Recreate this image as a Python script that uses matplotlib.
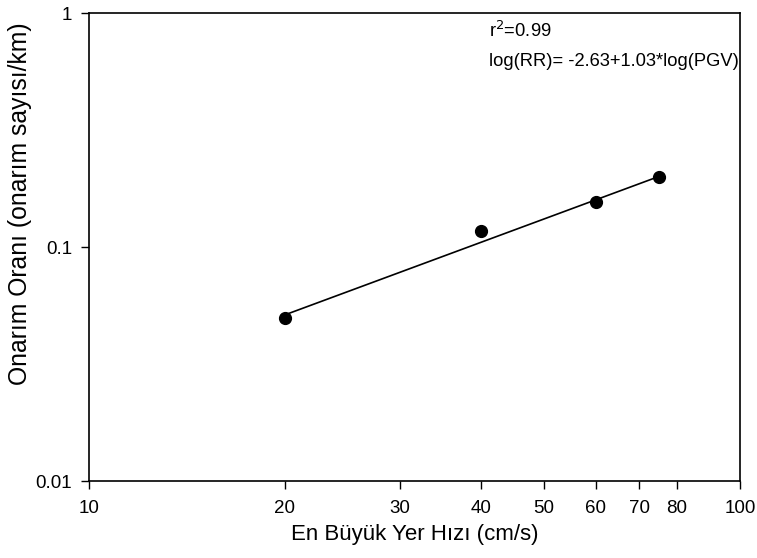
import matplotlib
matplotlib.use("Agg")
import matplotlib.pyplot as plt
from matplotlib.ticker import FixedLocator, FixedFormatter, NullLocator

plt.rcParams['font.family'] = ['Liberation Sans', 'DejaVu Sans']

pgv = [20, 40, 60, 75]
repair_rate = [0.0497, 0.117, 0.156, 0.199]
fit_x = [20, 75]
fit_y = [0.0513, 0.200]
x_ticks = [10, 20, 30, 40, 50, 60, 70, 80, 100]
x_tick_labels = ["10", "20", "30", "40", "50", "60", "70", "80", "100"]
y_ticks = [0.01, 0.1, 1]
y_tick_labels = ["0.01", "0.1", "1"]

fig = plt.figure(figsize=(7.57, 5.58), dpi=100)
ax = fig.add_axes([89/757, 1 - 481/558, 651/757, 468/558])
ax.set_xscale('log')
ax.set_yscale('log')
ax.set_xlim(10, 100)
ax.set_ylim(0.01, 1)

ax.plot(fit_x, fit_y, color='black', lw=1.2, zorder=2)
ax.plot(pgv, repair_rate, 'o', color='black', ms=8.5, zorder=3)

ax.xaxis.set_major_locator(FixedLocator(x_ticks))
ax.xaxis.set_major_formatter(FixedFormatter(x_tick_labels))
ax.xaxis.set_minor_locator(NullLocator())
ax.yaxis.set_major_locator(FixedLocator(y_ticks))
ax.yaxis.set_major_formatter(FixedFormatter(y_tick_labels))
ax.yaxis.set_minor_locator(NullLocator())
ax.tick_params(axis='both', direction='out', length=6, width=1, labelsize=13.5)
ax.tick_params(axis='x', pad=8)
ax.tick_params(axis='y', pad=6)

for s in ax.spines.values():
    s.set_linewidth(1.2)

ax.set_xlabel('En Büyük Yer Hızı (cm/s)', fontsize=16, labelpad=5)
ax.set_ylabel('Onarım Oranı (onarım sayısı/km)', fontsize=17.8)
ax.yaxis.set_label_coords(-0.087, 0.592)

ax.text(489/757, 1 - 31/558, r'r$^2$=0.99', transform=fig.transFigure, fontsize=13.2, va='center', ha='left')
ax.text(489/757, 1 - 61/558, 'log(RR)= -2.63+1.03*log(PGV)', transform=fig.transFigure, fontsize=13.2, va='center', ha='left')

fig.savefig('out.png', dpi=100)
